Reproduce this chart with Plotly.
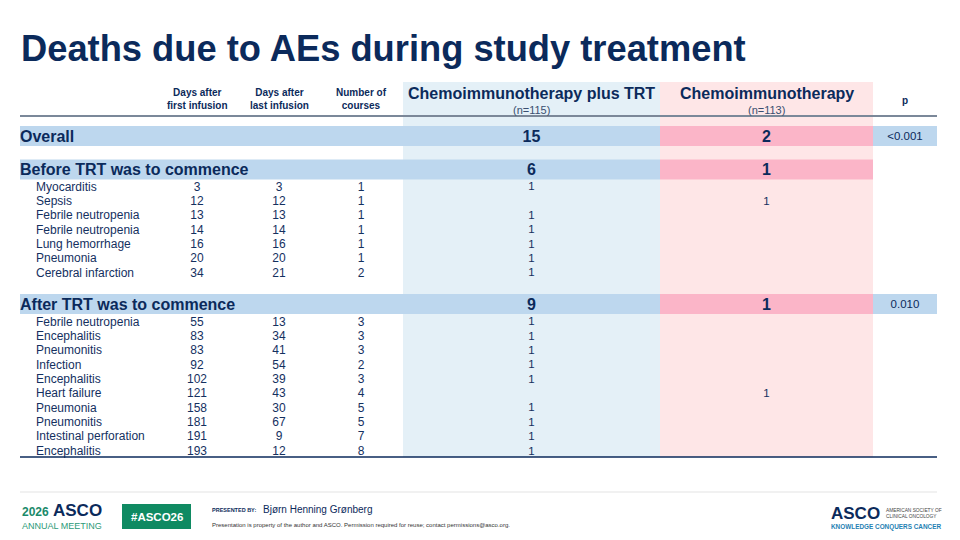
import plotly.graph_objects as go

# ---------------- data ----------------
col_headers = ["Days after<br>first infusion", "Days after<br>last infusion", "Number of<br>courses"]
arm_names = ["Chemoimmunotherapy plus TRT", "Chemoimmunotherapy"]
arm_n = ["(n=115)", "(n=113)"]

sections = ["Overall", "Before TRT was to commence", "After TRT was to commence"]
section_trt = [15, 6, 9]
section_chemo = [2, 1, 1]
section_p = ["<0.001", "", "0.010"]

events_before = ["Myocarditis", "Sepsis", "Febrile neutropenia", "Febrile neutropenia",
                 "Lung hemorrhage", "Pneumonia", "Cerebral infarction"]
first_before = [3, 12, 13, 14, 16, 20, 34]
last_before = [3, 12, 13, 14, 16, 20, 21]
courses_before = [1, 1, 1, 1, 1, 1, 2]
trt_before = [1, None, 1, 1, 1, 1, 1]
chemo_before = [None, 1, None, None, None, None, None]

events_after = ["Febrile neutropenia", "Encephalitis", "Pneumonitis", "Infection", "Encephalitis",
                "Heart failure", "Pneumonia", "Pneumonitis", "Intestinal perforation", "Encephalitis"]
first_after = [55, 83, 83, 92, 102, 121, 158, 181, 191, 193]
last_after = [13, 34, 41, 54, 39, 43, 30, 67, 9, 12]
courses_after = [3, 3, 3, 2, 3, 4, 5, 5, 7, 8]
trt_after = [1, 1, 1, 1, 1, None, 1, 1, 1, 1]
chemo_after = [None, None, None, None, None, 1, None, None, None, None]

# ---------------- layout constants ----------------
NAVY = "#0b2a5b"
TXT = "#14305f"
FONT = "Liberation Sans, Arial, sans-serif"
X_LEFT, X_RIGHT = 20, 937
X_LABEL = 36
X_COLS = [197, 279, 361]
X_TRT0, X_TRT1 = 403, 660
X_CH1 = 873
X_TRT, X_CH, X_P = (X_TRT0 + X_TRT1) / 2, (X_TRT1 + X_CH1) / 2, 905
BLUE_L, PINK_L = "#e4f0f7", "#fee6e7"
BLUE_D, PINK_D = "#bdd7ee", "#fbb5c8"
SEC_Y = [136, 169.5, 304]
SUB_START = [186, 321]
STEP = 14.35
HALF = 10
DY = 1.5  # text baseline nudge

def s(v):
    return "" if v is None else str(v)

fig = go.Figure()
shapes = []

# column backgrounds
shapes.append(dict(type="rect", x0=X_TRT0, x1=X_TRT1, y0=82, y1=457, fillcolor=BLUE_L, line_width=0, layer="below"))
shapes.append(dict(type="rect", x0=X_TRT1, x1=X_CH1, y0=82, y1=457, fillcolor=PINK_L, line_width=0, layer="below"))

# section bands
for yc, p in zip(SEC_Y, section_p):
    shapes.append(dict(type="rect", x0=X_LEFT, x1=X_TRT1, y0=yc - HALF, y1=yc + HALF, fillcolor=BLUE_D, line_width=0, layer="below"))
    shapes.append(dict(type="rect", x0=X_TRT1, x1=X_CH1, y0=yc - HALF, y1=yc + HALF, fillcolor=PINK_D, line_width=0, layer="below"))
    if p:
        shapes.append(dict(type="rect", x0=X_CH1, x1=X_RIGHT, y0=yc - HALF, y1=yc + HALF, fillcolor=BLUE_D, line_width=0, layer="below"))

# rules
shapes.append(dict(type="line", x0=X_LEFT, x1=X_RIGHT, y0=116, y1=116, line=dict(color="#7b8899", width=2)))
shapes.append(dict(type="line", x0=X_LEFT, x1=X_RIGHT, y0=457, y1=457, line=dict(color=NAVY, width=1.5)))
shapes.append(dict(type="line", x0=X_LEFT, x1=X_RIGHT, y0=492, y1=492, line=dict(color="#e3e3e3", width=1)))
# footer green box
shapes.append(dict(type="rect", x0=122, x1=191, y0=504, y1=529, fillcolor="#0f8a62", line_width=0))

# section rows
SEC_SIZE = 16
sec_ty = [y + DY for y in SEC_Y]
fig.add_trace(go.Scatter(x=[X_LEFT] * 3, y=sec_ty, mode="text", text=[f"<b>{t}</b>" for t in sections],
                         textposition="middle right", textfont=dict(size=SEC_SIZE, color=NAVY, family=FONT)))
fig.add_trace(go.Scatter(x=[X_TRT] * 3, y=sec_ty, mode="text", text=[f"<b>{v}</b>" for v in section_trt],
                         textposition="middle center", textfont=dict(size=SEC_SIZE, color=NAVY, family=FONT)))
fig.add_trace(go.Scatter(x=[X_CH] * 3, y=sec_ty, mode="text", text=[f"<b>{v}</b>" for v in section_chemo],
                         textposition="middle center", textfont=dict(size=SEC_SIZE, color=NAVY, family=FONT)))
fig.add_trace(go.Scatter(x=[X_P] * 3, y=sec_ty, mode="text", text=section_p,
                         textposition="middle center", textfont=dict(size=11.5, color=NAVY, family=FONT)))

# detail rows
groups = [
    (events_before, first_before, last_before, courses_before, trt_before, chemo_before, SUB_START[0]),
    (events_after, first_after, last_after, courses_after, trt_after, chemo_after, SUB_START[1]),
]
for ev, fi, la, co, tr, ch, y0 in groups:
    ys = [y0 + DY + i * STEP for i in range(len(ev))]
    tf = dict(size=12, color=TXT, family=FONT)
    fig.add_trace(go.Scatter(x=[X_LABEL] * len(ev), y=ys, mode="text", text=ev, textposition="middle right", textfont=tf))
    for xc, vals in zip(X_COLS, [fi, la, co]):
        fig.add_trace(go.Scatter(x=[xc] * len(ev), y=ys, mode="text", text=[s(v) for v in vals],
                                 textposition="middle center", textfont=tf))
    tf2 = dict(size=11.5, color=TXT, family=FONT)
    fig.add_trace(go.Scatter(x=[X_TRT] * len(ev), y=ys, mode="text", text=[s(v) for v in tr],
                             textposition="middle center", textfont=tf2))
    fig.add_trace(go.Scatter(x=[X_CH] * len(ev), y=ys, mode="text", text=[s(v) for v in ch],
                             textposition="middle center", textfont=tf2))

annotations = []
# title
annotations.append(dict(x=X_LEFT - 1, y=48, text="<b>Deaths due to AEs during study treatment</b>", showarrow=False,
                        xanchor="left", yanchor="middle", font=dict(size=36.3, color=NAVY, family=FONT)))
# column headers
for xc, h in zip(X_COLS, col_headers):
    annotations.append(dict(x=xc, y=99, text=f"<b>{h}</b>", showarrow=False, xanchor="center", yanchor="middle",
                            font=dict(size=10, color=NAVY, family=FONT)))
for xc, nm, n in zip([X_TRT, X_CH], arm_names, arm_n):
    annotations.append(dict(x=xc, y=93, text=f"<b>{nm}</b>", showarrow=False, xanchor="center", yanchor="middle",
                            font=dict(size=16, color=NAVY, family=FONT)))
    annotations.append(dict(x=xc, y=110, text=n, showarrow=False, xanchor="center", yanchor="middle",
                            font=dict(size=11, color="#3a4f70", family=FONT)))
annotations.append(dict(x=X_P, y=100, text="<b>p</b>", showarrow=False, xanchor="center", yanchor="middle",
                        font=dict(size=10, color=NAVY, family=FONT)))

# footer
annotations += [
    dict(x=20, y=512, text="<b>2026</b>", showarrow=False, xanchor="left", yanchor="middle",
         font=dict(size=12, color="#1a8a6a", family=FONT)),
    dict(x=51, y=510, text="<b>ASCO</b>", showarrow=False, xanchor="left", yanchor="middle",
         font=dict(size=17, color=NAVY, family=FONT)),
    dict(x=20, y=525.5, text="ANNUAL MEETING", showarrow=False, xanchor="left", yanchor="middle",
         font=dict(size=9, color="#2c9a78", family=FONT)),
    dict(x=156.5, y=516.5, text="<b>#ASCO26</b>", showarrow=False, xanchor="center", yanchor="middle",
         font=dict(size=11.5, color="white", family=FONT)),
    dict(x=210, y=510, text="<b>PRESENTED BY:</b>", showarrow=False, xanchor="left", yanchor="middle",
         font=dict(size=5.5, color=NAVY, family=FONT)),
    dict(x=261, y=509, text="Bjørn Henning Grønberg", showarrow=False, xanchor="left", yanchor="middle",
         font=dict(size=10, color=NAVY, family=FONT)),
    dict(x=210, y=524.5, text="Presentation is property of the author and ASCO. Permission required for reuse; contact permissions@asco.org.",
         showarrow=False, xanchor="left", yanchor="middle", font=dict(size=6, color="#333333", family=FONT)),
    dict(x=829, y=513, text="<b>ASCO</b>", showarrow=False, xanchor="left", yanchor="middle",
         font=dict(size=17, color=NAVY, family=FONT)),
    dict(x=884, y=513, text="AMERICAN SOCIETY OF<br>CLINICAL ONCOLOGY", showarrow=False, xanchor="left", yanchor="middle",
         align="left", font=dict(size=4.8, color="#444444", family=FONT)),
    dict(x=829, y=527, text="<b>KNOWLEDGE CONQUERS CANCER</b>", showarrow=False, xanchor="left", yanchor="middle",
         font=dict(size=6.4, color="#1f7fb3", family=FONT)),
]

fig.update_layout(
    width=960, height=540, margin=dict(l=0, r=0, t=0, b=0),
    paper_bgcolor="white", plot_bgcolor="white", showlegend=False,
    xaxis=dict(range=[0, 960], visible=False, fixedrange=True),
    yaxis=dict(range=[540, 0], visible=False, fixedrange=True),
    shapes=shapes, annotations=annotations,
)
fig.write_html("out.html", config={"displayModeBar": False},
               post_script="document.body.style.margin='0';document.body.style.overflow='hidden';")
